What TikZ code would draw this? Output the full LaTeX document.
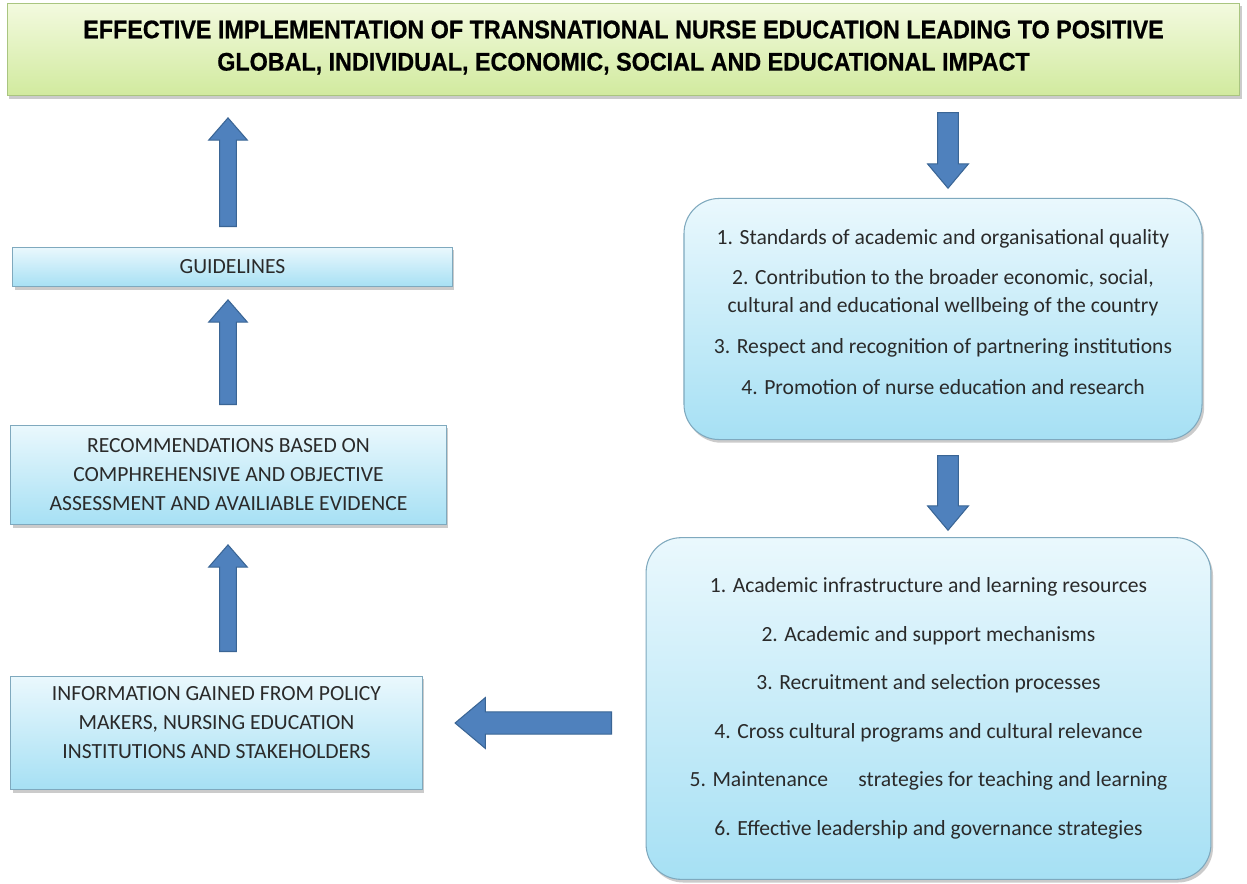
\documentclass[tikz,border=0pt]{standalone}
\usepackage{fontspec}
\setmainfont{Carlito}
\newfontfamily\titlefont[FakeStretch=0.915,BoldFeatures={FakeBold=0.6}]{Liberation Sans}
\usetikzlibrary{shapes.arrows,shadows}
\definecolor{arrowfill}{HTML}{4F81BD}
\definecolor{arrowline}{HTML}{3A6595}
\definecolor{boxtop}{HTML}{EAF8FD}
\definecolor{boxbot}{HTML}{A6E0F4}
\definecolor{boxline}{HTML}{7FA9BE}
\definecolor{titletop}{HTML}{F3FADF}
\definecolor{titlebot}{HTML}{D1EA9E}
\definecolor{titleline}{HTML}{A9C580}
\definecolor{txt}{HTML}{2A2A2A}
\tikzset{
  shad/.style={drop shadow={shadow xshift=1.2pt,shadow yshift=-1.8pt,fill=black!45,opacity=0.45}},
  bodyfont/.style={font=\fontsize{12.3}{16.5}\selectfont},
  bluebox/.style={draw=boxline, line width=0.6pt, top color=boxtop, bottom color=boxbot, shad,
     text=txt, align=center, inner sep=0pt, bodyfont},
  roundbox/.style={bluebox, rounded corners=20pt},
  boxtext/.style={text=txt, align=center, inner sep=0pt, bodyfont},
  titlebox/.style={draw=titleline, line width=0.6pt, top color=titletop, bottom color=titlebot, shad,
     inner sep=0pt},
  titletextstyle/.style={align=center, inner sep=0pt, font=\titlefont\bfseries\fontsize{14.5}{18.4}\selectfont},
  barrow/.style={single arrow, draw=arrowline, fill=arrowfill, line width=0.6pt,
     inner xsep=0pt, single arrow head indent=0pt, shape border uses incircle=false},
}
\begin{document}
\begin{tikzpicture}[x=0.02cm,y=-0.02cm]
\useasboundingbox[fill=white] (0,0) rectangle (1247,883);

% title
\node[titlebox, minimum width=1237*0.567pt, minimum height=93*0.567pt] (title) at (623.5,49.5) {};
\node[titletextstyle] (titletext) at (623.5,47.5)
  {EFFECTIVE IMPLEMENTATION OF TRANSNATIONAL NURSE EDUCATION LEADING TO POSITIVE\\
   GLOBAL, INDIVIDUAL, ECONOMIC, SOCIAL AND EDUCATIONAL IMPACT};

% left column
\node[bluebox, minimum width=441*0.567pt, minimum height=40*0.567pt] (guide) at (232.5,267)
  {GUIDELINES};
\node[bluebox, minimum width=437*0.567pt, minimum height=100*0.567pt] (rec) at (228.5,475)
  {RECOMMENDATIONS BASED ON\\ COMPHREHENSIVE AND OBJECTIVE\\ ASSESSMENT AND AVAILIABLE EVIDENCE};
\node[bluebox, minimum width=413*0.567pt, minimum height=114*0.567pt] (info) at (216.5,733) {};
\node[boxtext] (infotext) at (216.5,723)
  {INFORMATION GAINED FROM POLICY\\ MAKERS, NURSING EDUCATION\\ INSTITUTIONS AND STAKEHOLDERS};

% right column
\node[roundbox, minimum width=520*0.567pt, minimum height=242*0.567pt] (std) at (943,319) {};
\node[boxtext, font=\fontsize{12.3}{15.9}\selectfont] (stdtext) at (943,312)
  {1. Standards of academic and organisational quality\\[7.4pt]
   2. Contribution to the broader economic, social,\\
   cultural and educational wellbeing of the country\\[7.4pt]
   3. Respect and recognition of partnering institutions\\[7.4pt]
   4. Promotion of nurse education and research};
\node[roundbox, minimum width=567*0.567pt, minimum height=343*0.567pt, font=\fontsize{12.3}{27.6}\selectfont] (fac) at (928.5,708.5)
  {1. Academic infrastructure and learning resources\\
   2. Academic and support mechanisms\\
   3. Recruitment and selection processes\\
   4. Cross cultural programs and cultural relevance\\
   5. Maintenance\hspace{1.4em}strategies for teaching and learning\\
   6. Effective leadership and governance strategies};

% block arrows
\node[barrow, rotate=90, anchor=tail, inner ysep=4.5pt, single arrow head extend=6.2pt,
      minimum height=109*0.567pt, single arrow tip angle=82] (a1) at (228,227) {};
\node[barrow, rotate=90, anchor=tail, inner ysep=4.5pt, single arrow head extend=6.2pt,
      minimum height=105*0.567pt, single arrow tip angle=82] (a2) at (228,405) {};
\node[barrow, rotate=90, anchor=tail, inner ysep=4.5pt, single arrow head extend=6.2pt,
      minimum height=107*0.567pt, single arrow tip angle=82] (a3) at (228,652) {};
\node[barrow, rotate=180, anchor=tail, inner ysep=6pt, single arrow head extend=8.2pt,
      minimum height=157*0.567pt, single arrow tip angle=80] (a4) at (612,723) {};
\node[barrow, rotate=-90, anchor=tail, inner ysep=5.6pt, single arrow head extend=5.7pt,
      minimum height=76*0.567pt, single arrow tip angle=80] (a5) at (948,112) {};
\node[barrow, rotate=-90, anchor=tail, inner ysep=5.6pt, single arrow head extend=5.7pt,
      minimum height=75*0.567pt, single arrow tip angle=80] (a6) at (948,455) {};
\end{tikzpicture}
\end{document}
